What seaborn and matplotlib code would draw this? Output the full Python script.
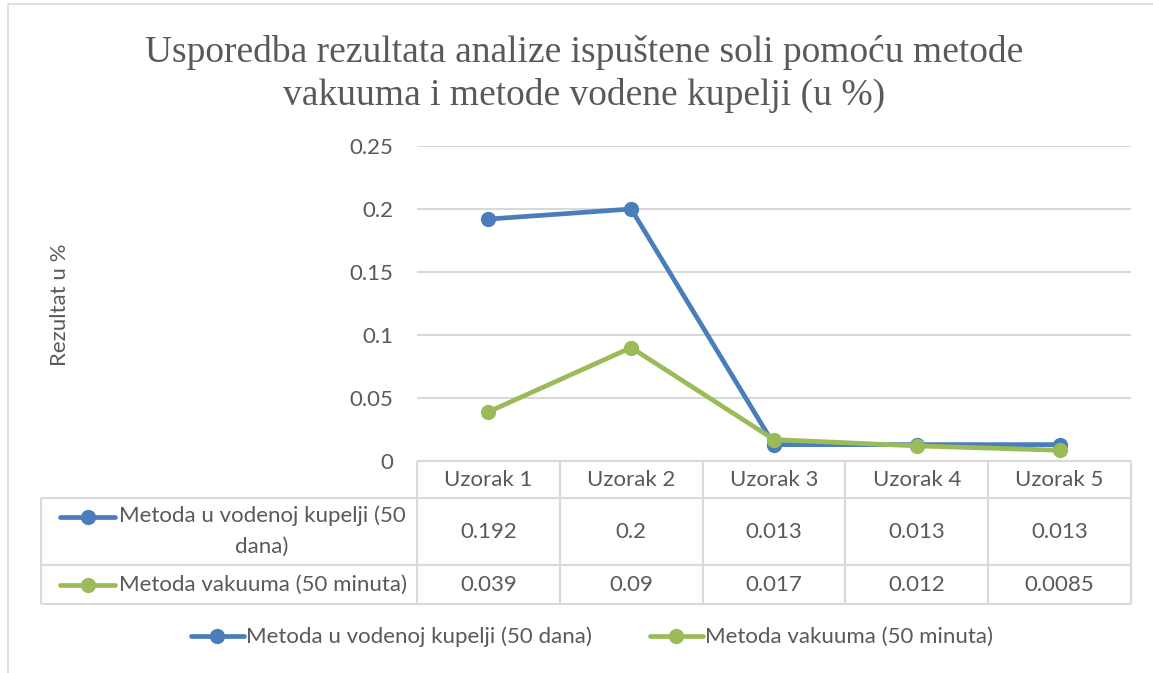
import pandas as pd
import matplotlib.pyplot as plt
import seaborn as sns
import numpy as np
from matplotlib.lines import Line2D

# podaci s grafa
uzorci = ['Uzorak 1', 'Uzorak 2', 'Uzorak 3', 'Uzorak 4', 'Uzorak 5']
kupelj = [0.192, 0.2, 0.013, 0.013, 0.013]
vakuum = [0.039, 0.09, 0.017, 0.012, 0.0085]
kupelj_txt = ['0.192', '0.2', '0.013', '0.013', '0.013']
vakuum_txt = ['0.039', '0.09', '0.017', '0.012', '0.0085']
serije = ['Metoda u vodenoj kupelji (50 dana)', 'Metoda vakuuma (50 minuta)']
y_ticks = [0, 0.05, 0.1, 0.15, 0.2, 0.25]
y_tick_labels = ['0', '0.05', '0.1', '0.15', '0.2', '0.25']

PLAVA = '#4a7ebb'
ZELENA = '#9bbb59'
SIVA = '#595959'
MREZA = '#d9d9d9'
FS = 16
LW, MS = 3.4, 11

df = pd.DataFrame({
    'Uzorak': uzorci * 2,
    'Rezultat': kupelj + vakuum,
    'Metoda': [serije[0]] * 5 + [serije[1]] * 5,
})
df['x'] = list(range(5)) * 2

sns.set_theme(style='white')
plt.rcParams['font.family'] = ['Lato', 'DejaVu Sans']

W, H = 1153, 673
fig = plt.figure(figsize=(W / 100, H / 100), dpi=100)

# pomocne osi u pikselima za tablicu i okvir
ovl = fig.add_axes([0, 0, 1, 1])
ovl.set_xlim(0, W)
ovl.set_ylim(H, 0)
ovl.axis('off')
ovl.set_zorder(1)

x0, x1 = 417, 1131
y_top, y_bot = 146, 461
ax = fig.add_axes([x0 / W, 1 - y_bot / H, (x1 - x0) / W, (y_bot - y_top) / H])
ax.set_zorder(2)
ax.patch.set_alpha(0)

sns.lineplot(data=df, x='x', y='Rezultat', hue='Metoda', palette=[PLAVA, ZELENA],
             marker='o', markersize=MS, markeredgewidth=0, linewidth=LW,
             ax=ax, legend=False, clip_on=False)

ax.set_xlim(-0.5, 4.5)
ax.set_ylim(0, 0.25)
ax.set_yticks(y_ticks)
ax.set_yticklabels(y_tick_labels, color=SIVA, fontsize=FS)
ax.set_xticks([])
ax.set_xlabel('')
ax.set_ylabel('')
ax.tick_params(axis='y', length=0, pad=17)
ax.grid(axis='y', color=MREZA, linewidth=1.5)
for s in ax.spines.values():
    s.set_visible(False)

fig.text(60 / W, 1 - 305 / H, 'Rezultat u %', rotation=90, ha='center', va='center',
         color=SIVA, fontsize=FS)

fig.text(0.5 * (148 + 1020) / W, 1 - 74 / H,
         'Usporedba rezultata analize ispuštene soli pomoću metode\nvakuuma i metode vodene kupelji (u %)',
         ha='center', va='center', color=SIVA, fontsize=27, family='Liberation Serif',
         linespacing=1.3)

# tablica podataka
col_w = (x1 - x0) / 5
col_edges = [x0 + i * col_w for i in range(6)]
rows_y = [461, 498, 565, 604]
lk = dict(color=MREZA, linewidth=1.5, solid_capstyle='butt')
ovl.plot([x0, x1], [461, 461], **lk)
for yy in rows_y[1:]:
    ovl.plot([41, x1], [yy, yy], **lk)
for xx in col_edges:
    ovl.plot([xx, xx], [461, 604], **lk)
ovl.plot([41, 41], [498, 604], **lk)

for i, u in enumerate(uzorci):
    cx = x0 + (i + 0.5) * col_w
    ovl.text(cx, 480, u, ha='center', va='center', color=SIVA, fontsize=FS)
    ovl.text(cx, 532, kupelj_txt[i], ha='center', va='center', color=SIVA, fontsize=FS)
    ovl.text(cx, 585, vakuum_txt[i], ha='center', va='center', color=SIVA, fontsize=FS)

# kljucevi serija u tablici
for boja, yy in [(PLAVA, 517), (ZELENA, 585)]:
    ovl.plot([60, 115], [yy, yy], color=boja, linewidth=LW, solid_capstyle='round')
    ovl.plot([87.5], [yy], marker='o', markersize=MS, color=boja, markeredgewidth=0)
naziv1 = serije[0].rsplit(' ', 1)
ovl.text(262, 516, naziv1[0], ha='center', va='center', color=SIVA, fontsize=FS)
ovl.text(262, 547, naziv1[1], ha='center', va='center', color=SIVA, fontsize=FS)
ovl.text(263, 585, serije[1], ha='center', va='center', color=SIVA, fontsize=FS)

# legenda
handles = [Line2D([0], [0], color=c, linewidth=LW, marker='o', markersize=MS,
                  markeredgewidth=0) for c in [PLAVA, ZELENA]]
fig.legend(handles, serije, loc='center', bbox_to_anchor=(592 / W, 1 - 637 / H),
           ncol=2, frameon=False, fontsize=FS, labelcolor=SIVA, handlelength=2.4,
           handletextpad=0.1, columnspacing=2.6)

# okvir grafa
ovl.plot([8, 8, W], [H, 4, 4], color=MREZA, linewidth=1.2)

fig.savefig('out.png', dpi=100)
